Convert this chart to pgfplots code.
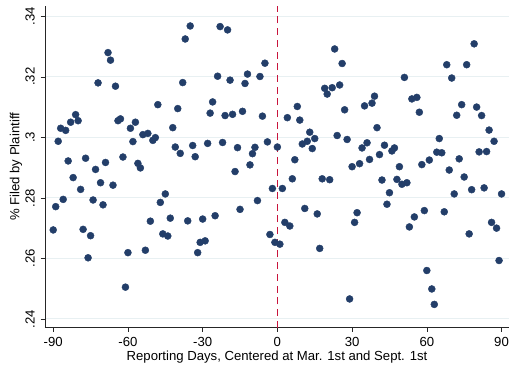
\documentclass[border=0pt]{standalone}
\usepackage{fontspec}
\setmainfont{Liberation Sans}
\usepackage{pgfplots}
\pgfplotsset{compat=1.18}
\definecolor{stnavy}{RGB}{35,62,105}
\definecolor{stgrid}{RGB}{232,240,242}
\definecolor{stline}{RGB}{185,25,65}
\begin{document}
\begin{tikzpicture}
\begin{axis}[
  at={(0,0)}, anchor=south west,
  scale only axis, width=464bp, height=321.7bp,
  xmin=-93.3, xmax=93.0, ymin=0.2371, ymax=0.3434,
  axis x line*=bottom, axis y line*=left,
  axis line style={-, black!85, line width=0.6bp},
  every outer x axis line/.append style={-},
  every outer y axis line/.append style={-},
  tick align=outside, major tick length=4.3bp,
  tick style={black!85, line width=0.6bp},
  xtick={-90,-60,-30,0,30,60,90},
  xticklabels={-90,-60,-30,0,30,60,90},
  ytick={0.24,0.26,0.28,0.30,0.32,0.34},
  yticklabels={.24,.26,.28,.3,.32,.34},
  ymajorgrids, grid style={stgrid, line width=0.9bp},
  ticklabel style={font=\fontsize{13.2}{15}\selectfont},
  xticklabel style={anchor=base, inner sep=0pt},
  xticklabel shift=14bp,
  yticklabel style={rotate=90, anchor=base, inner sep=0pt},
  yticklabel shift=6bp,
  xlabel={Reporting Days, Centered at Mar. 1st and Sept. 1st},
  ylabel={\% Filed by Plaintiff},
  label style={font=\fontsize{13.2}{15}\selectfont},
  xlabel style={at={(axis description cs:0.5,-0.1035)}, anchor=base, inner sep=0pt},
  ylabel style={at={(axis description cs:-0.055,0.5)}, anchor=base, inner sep=0pt},
  clip=false,
]
\addplot[draw={rgb,255:red,200;green,20;blue,60}, line width=1.6bp, dash pattern=on 7bp off 4.7bp, forget plot] coordinates {(0,0.2371) (0,0.3434)};
\addplot[only marks, mark=*, mark size=3.5bp, color=stnavy, mark options={fill=stnavy, draw=stnavy, line width=0.4bp}] table {
x y
-90 .2694
-89 .2771
-88 .2987
-87 .3030
-86 .2795
-85 .3023
-84 .2922
-83 .3050
-82 .2867
-81 .3075
-80 .3055
-79 .2828
-78 .2696
-77 .2931
-76 .2602
-75 .2675
-74 .2793
-73 .2894
-72 .3180
-71 .2850
-70 .2777
-69 .2917
-68 .3280
-67 .3255
-66 .2842
-65 .3169
-64 .3055
-63 .3061
-62 .2935
-61 .2505
-60 .2619
-59 .3030
-58 .2986
-57 .3050
-56 .2914
-55 .2899
-54 .3009
-53 .2627
-52 .3013
-51 .2723
-50 .2990
-49 .2999
-48 .3108
-47 .2785
-46 .2681
-45 .2813
-44 .2674
-43 .2733
-42 .3032
-41 .2968
-40 .3095
-39 .2947
-38 .3181
-37 .3325
-36 .2724
-35 .3368
-34 .2973
-33 .2936
-32 .2619
-31 .2653
-30 .2730
-29 .2658
-28 .2980
-27 .3080
-26 .3117
-25 .2741
-24 .3202
-23 .3366
-22 .2983
-21 .3072
-20 .3355
-19 .3189
-18 .3076
-17 .2887
-16 .2966
-15 .2762
-14 .3086
-13 .3178
-12 .3209
-11 .2909
-10 .2946
-9 .2967
-8 .2791
-7 .3201
-6 .3070
-5 .3245
-4 .2985
-3 .2679
-2 .2831
-1 .2653
0 .2968
1 .2647
2 .2831
3 .2719
4 .3065
5 .2707
6 .2863
7 .2926
8 .3102
9 .3057
10 .2978
11 .2765
12 .2987
13 .3017
14 .2963
15 .2996
16 .2747
17 .2633
18 .2863
19 .3162
20 .3143
21 .2860
22 .3164
23 .3292
24 .3006
25 .3173
26 .3244
27 .3091
28 .2993
29 .2466
30 .2903
31 .2719
32 .2751
33 .2913
34 .2965
35 .3104
36 .2982
37 .2927
38 .3113
39 .3136
40 .3032
41 .2943
42 .2859
43 .2974
44 .2779
45 .2817
46 .2955
47 .2965
48 .2861
49 .2903
50 .2845
51 .3198
52 .2850
53 .2704
54 .3127
55 .2737
56 .3132
57 .3083
58 .2910
59 .2758
60 .2560
61 .2925
62 .2499
63 .2448
64 .2951
65 .2996
66 .2949
67 .2754
68 .3240
69 .2892
70 .3196
71 .2813
72 .3073
73 .2929
74 .3108
75 .2869
76 .3240
77 .2681
78 .2827
79 .3309
80 .3100
81 .2952
82 .3072
83 .2833
84 .2953
85 .3024
86 .2719
87 .2987
88 .2700
89 .2593
90 .2813
};
\end{axis}
\pgfresetboundingbox
\path[use as bounding box] (-45bp,-42.3bp) rectangle (464bp,327.7bp);
\end{tikzpicture}
\end{document}
